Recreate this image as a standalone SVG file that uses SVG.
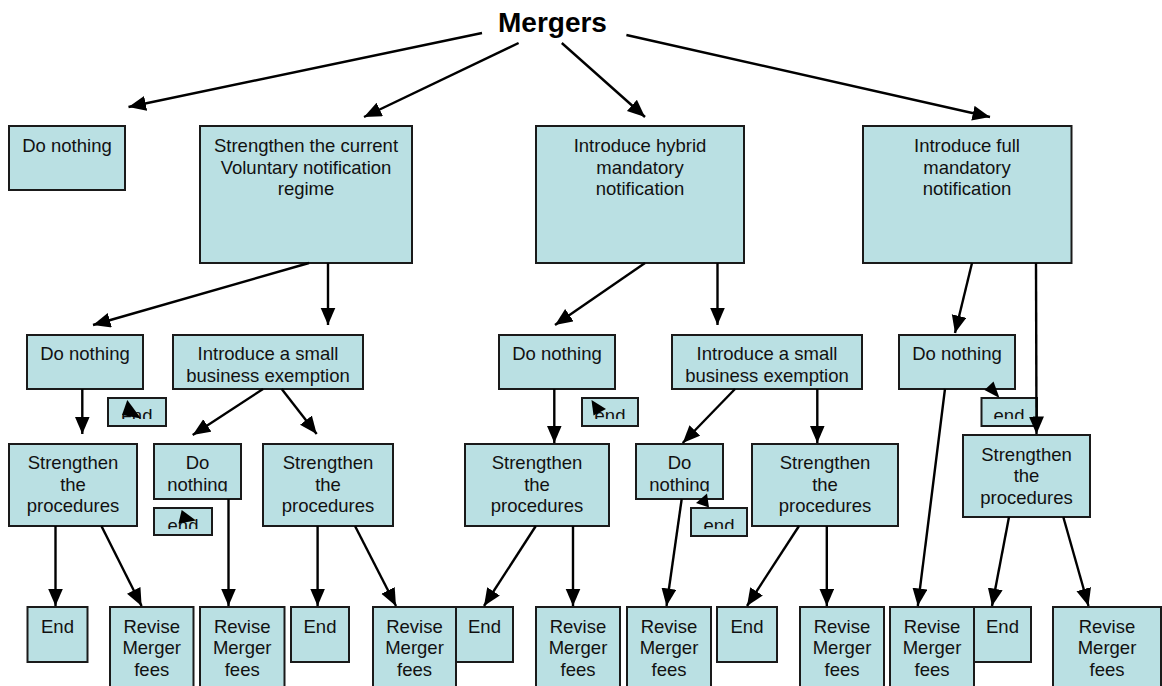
<svg xmlns="http://www.w3.org/2000/svg" width="1162" height="686" viewBox="0 0 1162 686">
<style>
.box{fill:#BAE0E3;stroke:#1a1a1a;stroke-width:2}
.t{font-family:"Liberation Sans",Arial,sans-serif;font-size:18.5px;fill:#111;text-anchor:middle}
.title{font-family:"Liberation Sans",Arial,sans-serif;font-size:28px;font-weight:bold;fill:#000}
.c line{stroke:#000;stroke-width:2.4;marker-end:url(#ah)}
.head{fill:#000}
</style>
<defs>
<marker id="ah" markerUnits="userSpaceOnUse" markerWidth="19" markerHeight="16" refX="17.5" refY="7.5" orient="auto">
<path d="M0,0 L17.5,7.5 L0,15 z" fill="#000"/>
</marker>
<clipPath id="ck"><rect x="154" y="444" width="87" height="47.5"/></clipPath>
<clipPath id="cn"><rect x="636" y="444" width="87" height="47.5"/></clipPath>
<clipPath id="ce1"><rect x="108" y="398" width="58" height="21"/></clipPath>
<clipPath id="ce2"><rect x="154" y="508" width="58" height="21"/></clipPath>
<clipPath id="ce3"><rect x="582" y="398" width="56" height="21"/></clipPath>
<clipPath id="ce4"><rect x="691" y="508" width="56" height="21"/></clipPath>
<clipPath id="ce5"><rect x="981.5" y="398" width="56" height="21"/></clipPath>
</defs>
<rect width="1162" height="686" fill="#fff"/>

<g id="mergers"><text class="title" x="498" y="32">Mergers</text></g>

<g id="n-top-donothing"><rect class="box" x="9" y="126" width="116" height="64"/><text class="t" x="67" y="152">Do nothing</text></g>
<g id="n-strengthen-voluntary"><rect class="box" x="200" y="126" width="212" height="137"/><text class="t" x="306" y="152">Strengthen the current</text><text class="t" x="306" y="173.5">Voluntary notification</text><text class="t" x="306" y="195">regime</text></g>
<g id="n-hybrid"><rect class="box" x="536" y="126" width="208" height="137"/><text class="t" x="640" y="152">Introduce hybrid</text><text class="t" x="640" y="173.5">mandatory</text><text class="t" x="640" y="195">notification</text></g>
<g id="n-full"><rect class="box" x="863" y="126" width="208.5" height="137"/><text class="t" x="967" y="152">Introduce full</text><text class="t" x="967" y="173.5">mandatory</text><text class="t" x="967" y="195">notification</text></g>

<g id="n-e"><rect class="box" x="27" y="335" width="116" height="54"/><text class="t" x="85" y="360">Do nothing</text></g>
<g id="n-f"><rect class="box" x="173" y="335" width="190" height="54"/><text class="t" x="268" y="360">Introduce a small</text><text class="t" x="268" y="382">business exemption</text></g>
<g id="n-g"><rect class="box" x="499" y="335" width="116" height="54"/><text class="t" x="557" y="360">Do nothing</text></g>
<g id="n-h"><rect class="box" x="672" y="335" width="190" height="54"/><text class="t" x="767" y="360">Introduce a small</text><text class="t" x="767" y="382">business exemption</text></g>
<g id="n-i"><rect class="box" x="899" y="335" width="116" height="54"/><text class="t" x="957" y="360">Do nothing</text></g>

<g id="end-1"><rect class="box" x="108" y="398" width="58" height="28"/><text class="t" x="137" y="421.5" clip-path="url(#ce1)">end</text></g>
<g id="end-3"><rect class="box" x="582" y="398" width="56" height="28"/><text class="t" x="610" y="421.5" clip-path="url(#ce3)">end</text></g>
<g id="end-5"><rect class="box" x="981.5" y="398" width="55.5" height="28"/><text class="t" x="1009" y="421.5" clip-path="url(#ce5)">end</text></g>

<g id="n-j"><rect class="box" x="9" y="444" width="128" height="82"/><text class="t" x="73" y="469">Strengthen</text><text class="t" x="73" y="490.5">the</text><text class="t" x="73" y="512">procedures</text></g>
<g id="n-k"><rect class="box" x="154" y="444" width="87" height="55"/><g clip-path="url(#ck)"><text class="t" x="197.5" y="469">Do</text><text class="t" x="197.5" y="490.5">nothing</text></g></g>
<g id="n-l"><rect class="box" x="263" y="444" width="130" height="82"/><text class="t" x="328" y="469">Strengthen</text><text class="t" x="328" y="490.5">the</text><text class="t" x="328" y="512">procedures</text></g>
<g id="n-m"><rect class="box" x="465" y="444" width="144" height="82"/><text class="t" x="537" y="469">Strengthen</text><text class="t" x="537" y="490.5">the</text><text class="t" x="537" y="512">procedures</text></g>
<g id="n-n"><rect class="box" x="636" y="444" width="87" height="55"/><g clip-path="url(#cn)"><text class="t" x="679.5" y="469">Do</text><text class="t" x="679.5" y="490.5">nothing</text></g></g>
<g id="n-o"><rect class="box" x="752" y="444" width="146" height="82"/><text class="t" x="825" y="469">Strengthen</text><text class="t" x="825" y="490.5">the</text><text class="t" x="825" y="512">procedures</text></g>
<g id="n-p"><rect class="box" x="963" y="435" width="127" height="82"/><text class="t" x="1026.5" y="460.5">Strengthen</text><text class="t" x="1026.5" y="482">the</text><text class="t" x="1026.5" y="503.5">procedures</text></g>

<g id="end-2"><rect class="box" x="154" y="508" width="58" height="27"/><text class="t" x="183" y="531.5" clip-path="url(#ce2)">end</text></g>
<g id="end-4"><rect class="box" x="691" y="508" width="56" height="28"/><text class="t" x="719" y="531.5" clip-path="url(#ce4)">end</text></g>

<g id="b-end1"><rect class="box" x="27.5" y="607" width="60" height="55"/><text class="t" x="57.5" y="632.5">End</text></g>
<g id="b-rev1"><rect class="box" x="110" y="607" width="83.5" height="90"/><text class="t" x="151.7" y="632.5">Revise</text><text class="t" x="151.7" y="654">Merger</text><text class="t" x="151.7" y="675.5">fees</text></g>
<g id="b-rev2"><rect class="box" x="200" y="607" width="84.5" height="90"/><text class="t" x="242.2" y="632.5">Revise</text><text class="t" x="242.2" y="654">Merger</text><text class="t" x="242.2" y="675.5">fees</text></g>
<g id="b-end2"><rect class="box" x="291" y="607" width="58" height="55"/><text class="t" x="320" y="632.5">End</text></g>
<g id="b-rev3"><rect class="box" x="373" y="607" width="83" height="90"/><text class="t" x="414.5" y="632.5">Revise</text><text class="t" x="414.5" y="654">Merger</text><text class="t" x="414.5" y="675.5">fees</text></g>
<g id="b-end3"><rect class="box" x="456" y="607" width="57" height="55"/><text class="t" x="484.5" y="632.5">End</text></g>
<g id="b-rev4"><rect class="box" x="536" y="607" width="84" height="90"/><text class="t" x="578" y="632.5">Revise</text><text class="t" x="578" y="654">Merger</text><text class="t" x="578" y="675.5">fees</text></g>
<g id="b-rev5"><rect class="box" x="627" y="607" width="84" height="90"/><text class="t" x="669" y="632.5">Revise</text><text class="t" x="669" y="654">Merger</text><text class="t" x="669" y="675.5">fees</text></g>
<g id="b-end4"><rect class="box" x="717" y="607" width="60" height="55"/><text class="t" x="747" y="632.5">End</text></g>
<g id="b-rev6"><rect class="box" x="800" y="607" width="84" height="90"/><text class="t" x="842" y="632.5">Revise</text><text class="t" x="842" y="654">Merger</text><text class="t" x="842" y="675.5">fees</text></g>
<g id="b-rev7"><rect class="box" x="890" y="607" width="84" height="90"/><text class="t" x="932" y="632.5">Revise</text><text class="t" x="932" y="654">Merger</text><text class="t" x="932" y="675.5">fees</text></g>
<g id="b-end5"><rect class="box" x="974" y="607" width="57" height="55"/><text class="t" x="1002.5" y="632.5">End</text></g>
<g id="b-rev8"><rect class="box" x="1053" y="607" width="108" height="90"/><text class="t" x="1107" y="632.5">Revise</text><text class="t" x="1107" y="654">Merger</text><text class="t" x="1107" y="675.5">fees</text></g>

<g id="connectors" class="c">
<line x1="482" y1="33" x2="128.5" y2="107"/>
<line x1="518.6" y1="43" x2="364" y2="117"/>
<line x1="561.8" y1="43" x2="645" y2="117"/>
<line x1="626.4" y1="35" x2="990" y2="117"/>
<line x1="309" y1="263" x2="93" y2="325"/>
<line x1="328" y1="263" x2="328" y2="325"/>
<line x1="82.3" y1="389" x2="82.3" y2="434"/>
<line x1="263" y1="389" x2="192.7" y2="435"/>
<line x1="281.7" y1="389" x2="316.7" y2="434"/>
<line x1="645" y1="263" x2="555" y2="325"/>
<line x1="717.5" y1="263" x2="717.5" y2="325"/>
<line x1="554.3" y1="389" x2="554.3" y2="443"/>
<line x1="735" y1="389" x2="682.7" y2="443"/>
<line x1="817.3" y1="389" x2="817.3" y2="443"/>
<line x1="972" y1="263" x2="955" y2="333"/>
<line x1="1036" y1="263" x2="1036.5" y2="434"/>
<line x1="55.5" y1="526" x2="55.5" y2="606"/>
<line x1="101.4" y1="526" x2="141.6" y2="606"/>
<line x1="228.5" y1="499" x2="228.5" y2="606"/>
<line x1="317.6" y1="526" x2="317.6" y2="606"/>
<line x1="355" y1="526" x2="396" y2="606"/>
<line x1="535.8" y1="526" x2="484" y2="606"/>
<line x1="573" y1="526" x2="573" y2="606"/>
<line x1="681.7" y1="499" x2="666.5" y2="606"/>
<line x1="799" y1="526" x2="747" y2="606"/>
<line x1="826.8" y1="526" x2="826.8" y2="606"/>
<line x1="945" y1="389" x2="917.8" y2="606"/>
<line x1="1009" y1="517" x2="992" y2="606"/>
<line x1="1063.3" y1="517" x2="1088.5" y2="606"/>
<polygon class="head" points="127.3,400 122,415 141,418.5"/>
<polygon class="head" points="181.7,510 178.5,523.5 196,520.5"/>
<polygon class="head" points="591.5,400 593.5,415.5 606,409"/>
<polygon class="head" points="696,503 707,493.5 709,507.5"/>
<polygon class="head" points="999.5,398 984.5,390 993.5,381.5"/>
</g>
</svg>
